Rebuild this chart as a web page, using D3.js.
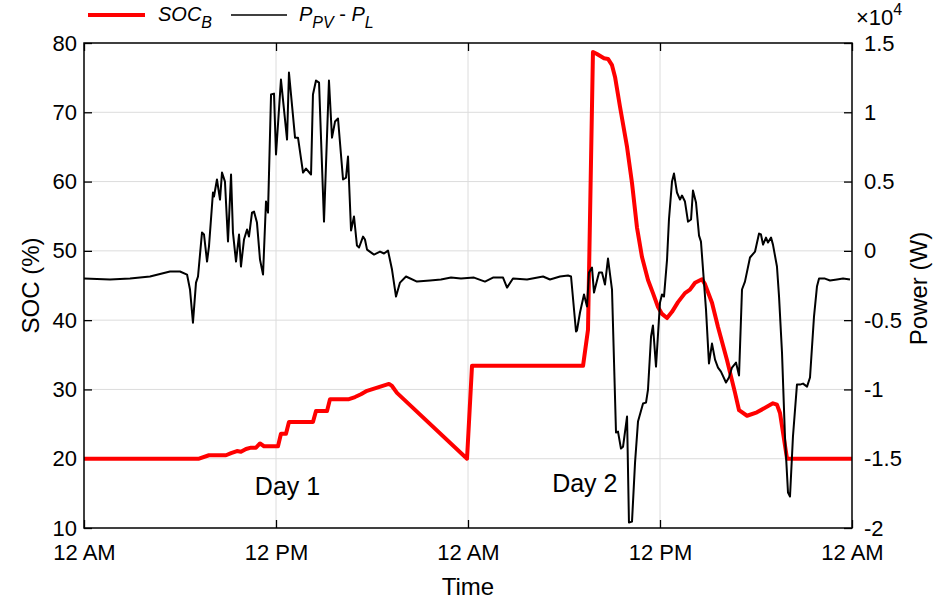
<!DOCTYPE html>
<html>
<head>
<meta charset="utf-8">
<script src="https://cdn.jsdelivr.net/npm/d3@7"></script>
<style>
  html, body { margin: 0; padding: 0; background: #fff; }
  svg { display: block; font-family: "Liberation Sans", Arial, sans-serif; }
</style>
</head>
<body>
<svg id="chart" width="948" height="600"></svg>
<script>
// Time axis (hours since midnight of day 1)
const xTickHours = [0, 12, 24, 36, 48];
const xTickLabels = ["12 AM", "12 PM", "12 AM", "12 PM", "12 AM"];
const socTicks = [10, 20, 30, 40, 50, 60, 70, 80];
const powerTicks = [-20000, -15000, -10000, -5000, 0, 5000, 10000, 15000];
const powerTickLabels = ["-2", "-1.5", "-1", "-0.5", "0", "0.5", "1", "1.5"];
const dayLabels = ["Day 1", "Day 2"];
const dayLabelHours = [12.72, 31.3];

// Battery state of charge (%)
const socHours = [0, 7.19, 7.81, 8.875, 9.19, 9.56, 9.81, 10.125, 10.44, 10.75, 11.0, 11.25, 12.125, 12.31, 12.625, 12.81, 14.31, 14.5, 15.19, 15.375, 16.56, 16.94, 17.31, 17.69, 19.06, 19.25, 19.56, 23.94, 24.25, 31.19, 31.5, 31.81, 32.06, 32.5, 32.75, 33.0, 33.19, 33.5, 33.94, 34.25, 34.56, 34.875, 35.25, 35.56, 35.875, 36.125, 36.44, 36.75, 37.125, 37.56, 37.875, 38.19, 38.625, 38.81, 39.25, 39.625, 40.19, 40.69, 40.94, 41.44, 42.06, 43.06, 43.31, 43.5, 43.94, 48];
const socValues = [20, 20, 20.5, 20.5, 20.8, 21.1, 21.0, 21.4, 21.6, 21.6, 22.2, 21.8, 21.8, 23.6, 23.6, 25.3, 25.3, 26.9, 26.9, 28.6, 28.6, 28.9, 29.3, 29.8, 30.8, 30.5, 29.5, 20, 33.4, 33.4, 38.6, 78.7, 78.4, 77.8, 77.7, 76.8, 75.1, 70.8, 65.0, 59.8, 53.4, 49.1, 45.8, 43.9, 41.9, 40.9, 40.3, 41.2, 42.6, 43.9, 44.4, 45.4, 45.9, 45.2, 42.5, 39.0, 34.2, 29.5, 27.0, 26.2, 26.7, 28.0, 27.8, 26.6, 20, 20];

// Net power P_PV - P_L (W)
const powerHours = [0, 1.625, 2.875, 4.125, 5.375, 6.0, 6.44, 6.625, 6.81, 7.0, 7.125, 7.375, 7.5, 7.69, 7.81, 8.06, 8.125, 8.31, 8.5, 8.625, 8.81, 9.0, 9.19, 9.31, 9.5, 9.69, 9.81, 10.0, 10.19, 10.31, 10.5, 10.625, 10.81, 11.0, 11.19, 11.375, 11.5, 11.69, 11.875, 12.0, 12.31, 12.69, 12.81, 13.19, 13.375, 13.69, 13.875, 14.19, 14.31, 14.5, 14.69, 15.0, 15.31, 15.5, 15.69, 15.875, 16.19, 16.375, 16.5, 16.69, 16.875, 17.06, 17.19, 17.44, 17.56, 17.69, 18.125, 18.5, 18.75, 19.0, 19.25, 19.5, 19.75, 20.125, 20.81, 21.625, 22.31, 22.94, 23.56, 24.375, 25.06, 25.56, 26.19, 26.44, 26.81, 27.69, 28.69, 29.125, 29.75, 30.25, 30.44, 30.75, 30.81, 31.0, 31.25, 31.44, 31.56, 31.75, 31.875, 32.19, 32.375, 32.56, 32.75, 33.0, 33.25, 33.375, 33.56, 33.69, 33.94, 34.06, 34.25, 34.44, 34.625, 34.94, 35.125, 35.25, 35.44, 35.56, 35.75, 36.0, 36.125, 36.25, 36.44, 36.56, 36.75, 36.875, 37.06, 37.25, 37.375, 37.56, 37.75, 37.94, 38.06, 38.25, 38.44, 38.56, 38.875, 39.06, 39.25, 39.44, 39.625, 39.81, 40.125, 40.31, 40.5, 40.75, 40.94, 41.125, 41.31, 41.625, 41.94, 42.19, 42.31, 42.44, 42.625, 42.75, 42.94, 43.06, 43.31, 43.44, 43.625, 43.81, 44.0, 44.125, 44.31, 44.56, 44.75, 44.94, 45.19, 45.375, 45.625, 45.81, 45.94, 46.31, 46.625, 47.06, 47.44, 47.875];
const powerValues = [-2000, -2070, -2000, -1850, -1490, -1490, -1710, -2790, -5180, -2290, -1850, 1320, 1180, -770, 310, 4210, 3920, 5150, 3700, 5650, 5000, 670, 5510, 1320, -770, 1180, -1130, 820, 1540, 1030, 2760, 2840, 2040, -630, -1710, 3560, 2760, 11280, 11350, 6950, 12360, 8030, 12870, 8170, 8170, 5650, 5940, 5510, 11280, 12290, 12140, 2110, 12290, 8170, 9330, 9550, 5150, 5290, 6810, 1470, 2480, 380, 240, 1030, 820, 90, -270, -50, -190, 20, -1350, -3300, -2290, -1850, -2220, -2140, -2070, -1930, -2000, -1930, -2220, -1930, -1930, -2650, -2000, -2070, -1850, -2070, -1850, -1780, -1850, -5820, -5750, -4450, -3150, -4020, -1570, -1210, -3010, -1570, -1570, -2430, -560, -2790, -13110, -13040, -14270, -14130, -11960, -19610, -19540, -15280, -12320, -11020, -10950, -10010, -6180, -5390, -8350, -3730, -3150, -3300, -630, 2260, 5000, 5580, 4210, 3700, 3990, 3560, 2110, 2260, 4350, 3490, 1100, 670, -4240, -8130, -6690, -7850, -8420, -8710, -9500, -9140, -8420, -8060, -9000, -2790, -2220, -480, -50, 1250, 1180, 450, 960, 600, 960, 450, -1130, -3300, -7340, -13400, -17440, -17730, -13400, -9650, -9650, -9580, -9800, -9140, -4740, -2580, -2000, -2000, -2140, -2070, -2000, -2070];

const W = 948, H = 600;
const margin = { top: 43, right: 96, bottom: 72, left: 84 };
const innerW = W - margin.left - margin.right;
const innerH = H - margin.top - margin.bottom;

const svg = d3.select("#chart");
const g = svg.append("g").attr("transform", `translate(${margin.left},${margin.top})`);

const x = d3.scaleLinear().domain([0, 48]).range([0, innerW]);
const ySoc = d3.scaleLinear().domain([10, 80]).range([innerH, 0]);
const yPow = d3.scaleLinear().domain([-20000, 15000]).range([innerH, 0]);

const fontSize = 22;
const gridColor = "#dcdcdc";

// Grid lines
g.append("g").selectAll("line")
  .data(socTicks.filter(t => t > 10 && t < 80))
  .join("line")
  .attr("x1", 0).attr("x2", innerW)
  .attr("y1", d => ySoc(d)).attr("y2", d => ySoc(d))
  .attr("stroke", gridColor).attr("stroke-width", 1);
g.append("g").selectAll("line")
  .data(xTickHours.filter(t => t > 0 && t < 48))
  .join("line")
  .attr("y1", 0).attr("y2", innerH)
  .attr("x1", d => x(d)).attr("x2", d => x(d))
  .attr("stroke", gridColor).attr("stroke-width", 1);

// Axes (ticks point inward)
const tickLen = 8;
const xAxisBottom = d3.axisBottom(x).tickValues(xTickHours)
  .tickFormat((d, i) => xTickLabels[i]).tickSizeInner(-tickLen).tickSizeOuter(0).tickPadding(16);
const xAxisTop = d3.axisTop(x).tickValues(xTickHours)
  .tickFormat("").tickSizeInner(-tickLen).tickSizeOuter(0);
const yAxisLeft = d3.axisLeft(ySoc).tickValues(socTicks)
  .tickSizeInner(-tickLen).tickSizeOuter(0).tickPadding(7);
const yAxisRight = d3.axisRight(yPow).tickValues(powerTicks)
  .tickFormat((d, i) => powerTickLabels[i]).tickSizeInner(-tickLen).tickSizeOuter(0).tickPadding(12);

function styleAxis(sel) {
  sel.select(".domain").remove();
  sel.selectAll(".tick line").attr("stroke", "#000").attr("stroke-width", 1.3);
  sel.selectAll(".tick text").attr("fill", "#000")
    .style("font-size", fontSize + "px")
    .style("font-family", "'Liberation Sans', Arial, sans-serif");
}

g.append("g").attr("transform", `translate(0,${innerH})`).call(xAxisBottom).call(styleAxis);
g.append("g").call(xAxisTop).call(styleAxis);
g.append("g").call(yAxisLeft).call(styleAxis);
g.append("g").attr("transform", `translate(${innerW},0)`).call(yAxisRight).call(styleAxis);

// Plot lines
const socData = socHours.map((h, i) => [h, socValues[i]]);
const powData = powerHours.map((h, i) => [h, powerValues[i]]);

g.append("clipPath").attr("id", "plotclip")
  .append("rect").attr("x", 0).attr("y", 0).attr("width", innerW).attr("height", innerH);

const plot = g.append("g").attr("clip-path", "url(#plotclip)");

plot.append("path")
  .datum(socData)
  .attr("fill", "none")
  .attr("stroke", "#ff0000")
  .attr("stroke-width", 4)
  .attr("stroke-linejoin", "round")
  .attr("d", d3.line().x(d => x(d[0])).y(d => ySoc(d[1])));

plot.append("path")
  .datum(powData)
  .attr("fill", "none")
  .attr("stroke", "#000")
  .attr("stroke-width", 2)
  .attr("stroke-linejoin", "round")
  .attr("d", d3.line().x(d => x(d[0])).y(d => yPow(d[1])));

// Frame
g.append("rect")
  .attr("x", 0).attr("y", 0).attr("width", innerW).attr("height", innerH)
  .attr("fill", "none").attr("stroke", "#000").attr("stroke-width", 1.5);

// Day labels
g.append("g").selectAll("text")
  .data(dayLabels)
  .join("text")
  .attr("x", (d, i) => x(dayLabelHours[i]))
  .attr("y", (d, i) => i === 0 ? 452 : 449)
  .attr("text-anchor", "middle")
  .style("font-size", "25px")
  .attr("fill", "#000")
  .text(d => d);

// Axis titles
svg.append("text")
  .attr("x", margin.left + innerW / 2).attr("y", 595)
  .attr("text-anchor", "middle").style("font-size", "24px")
  .text("Time");

svg.append("text")
  .attr("transform", `translate(39,${margin.top + innerH / 2}) rotate(-90)`)
  .attr("text-anchor", "middle").style("font-size", "24px")
  .text("SOC (%)");

svg.append("text")
  .attr("transform", `translate(927,${margin.top + innerH / 2 + 3}) rotate(-90)`)
  .attr("text-anchor", "middle").style("font-size", "24px")
  .text("Power (W)");

// Exponent label for the power axis
const expo = svg.append("text").attr("x", 856).attr("y", 25).style("font-size", "22px");
expo.append("tspan").text("\u00d710");
expo.append("tspan").attr("dy", -10).style("font-size", "16px").text("4");

// Legend
const legend = svg.append("g");
legend.append("line").attr("x1", 88).attr("x2", 145).attr("y1", 15).attr("y2", 15)
  .attr("stroke", "#ff0000").attr("stroke-width", 4);
const t1 = legend.append("text").attr("x", 158).attr("y", 21)
  .style("font-size", "20px").style("font-style", "italic");
t1.append("tspan").text("SOC");
t1.append("tspan").attr("dy", 7).style("font-size", "16px").text("B");

legend.append("line").attr("x1", 231).attr("x2", 287).attr("y1", 15).attr("y2", 15)
  .attr("stroke", "#000").attr("stroke-width", 1.5);
const t2 = legend.append("text").attr("x", 299).attr("y", 21)
  .style("font-size", "20px").style("font-style", "italic");
t2.append("tspan").text("P");
t2.append("tspan").attr("dy", 7).style("font-size", "16px").text("PV");
t2.append("tspan").attr("dy", -7).style("font-style", "normal").text(" - ");
t2.append("tspan").text("P");
t2.append("tspan").attr("dy", 7).style("font-size", "16px").text("L");
</script>
</body>
</html>
